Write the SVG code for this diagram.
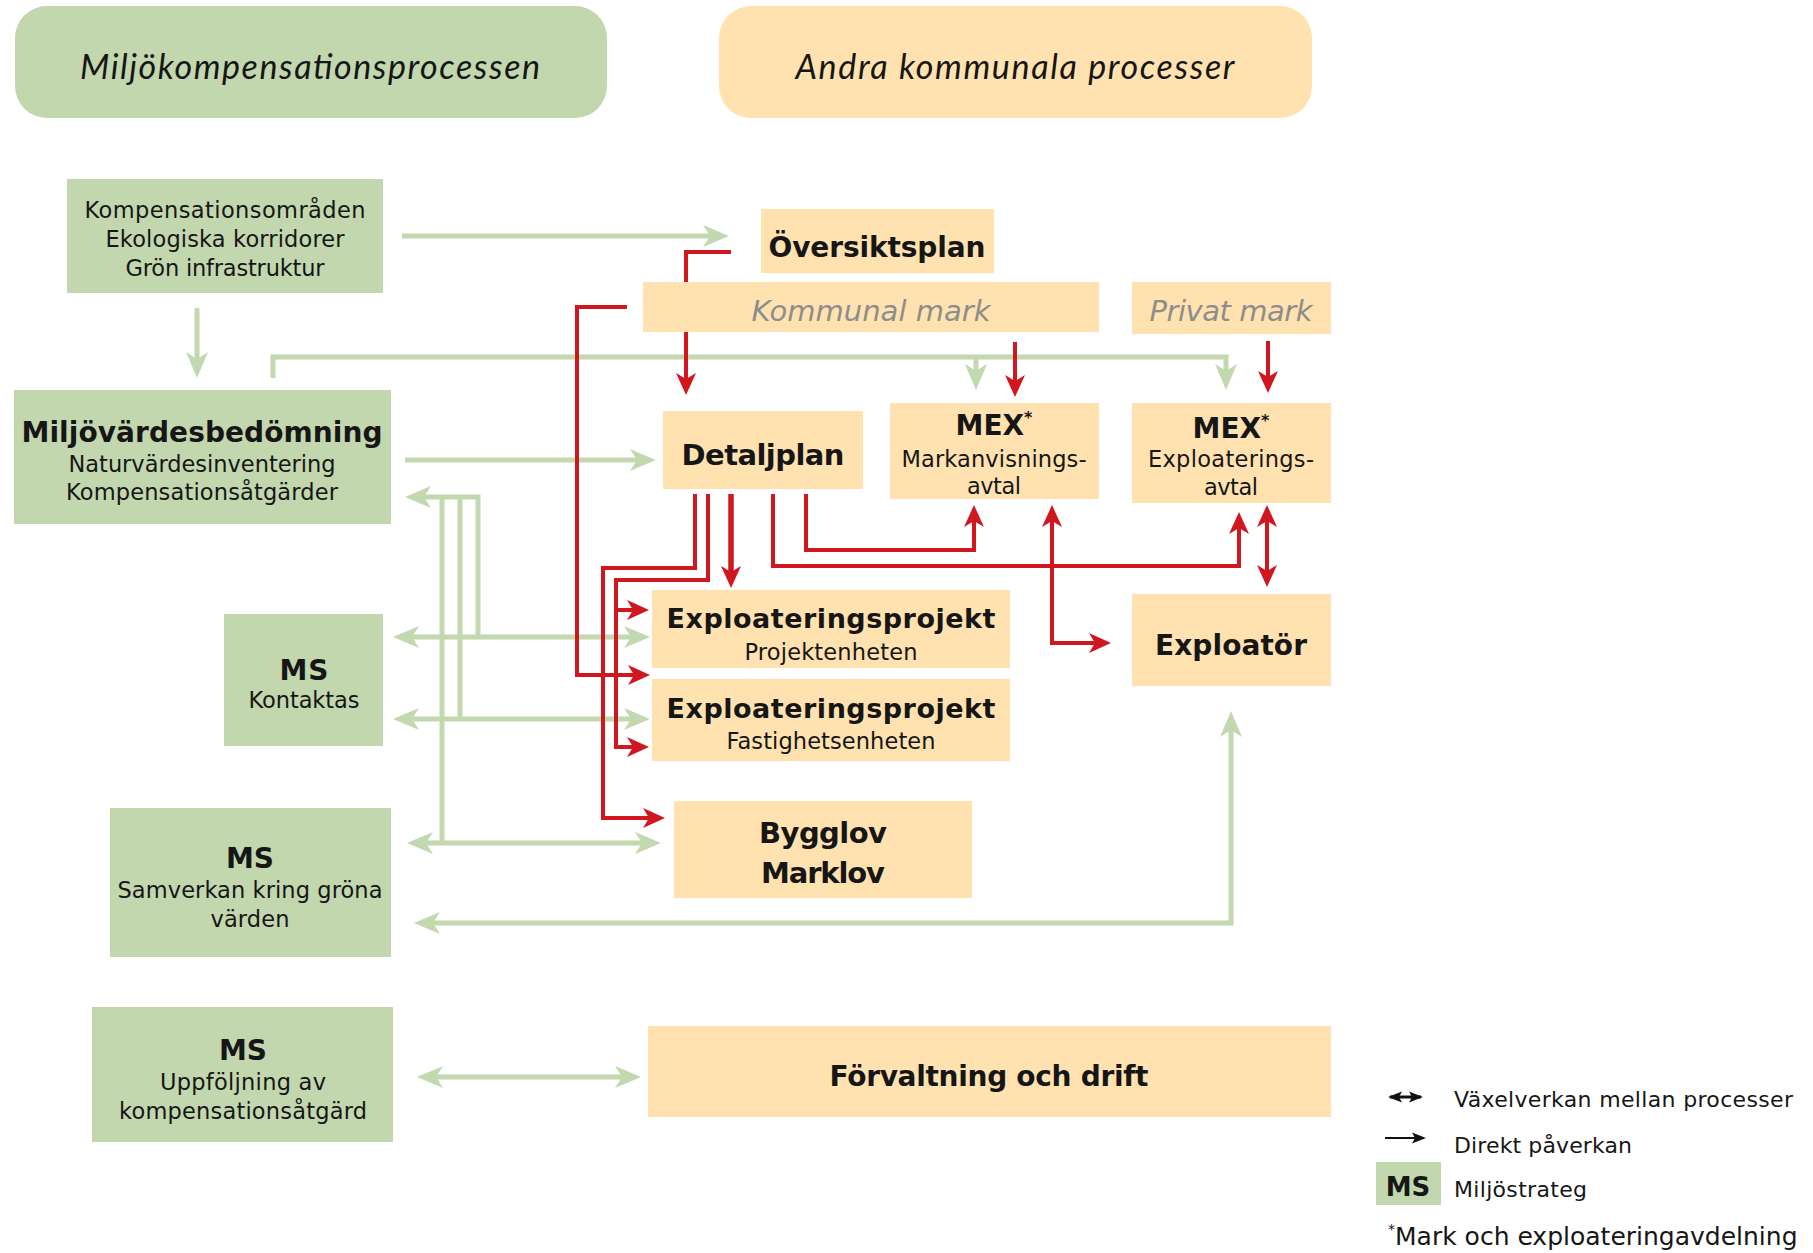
<svg xmlns="http://www.w3.org/2000/svg" width="1813" height="1253" viewBox="0 0 1813 1253">
<defs>
<style>
text{font-family:"DejaVu Sans","Liberation Sans",sans-serif;fill:#161616;text-anchor:middle}
.g{fill:#C2D7AE}
.o{fill:#FFE2AF}
.h{font-family:Lato,"DejaVu Sans",sans-serif;font-style:italic;font-size:34px}
.b{font-weight:bold;font-size:28px}
.s{font-size:22.5px}
.k{font-style:italic;font-weight:200;font-size:29px;fill:#8d8d8d}
.lg{font-size:22px;text-anchor:start}
.red{fill:none;stroke:#D0161E;stroke-width:4}
.grn{fill:none;stroke:#C2D8AE;stroke-width:5}
</style>
<marker id="ar" markerUnits="userSpaceOnUse" viewBox="0 -11 22 22" markerWidth="22" markerHeight="22" refX="14" refY="0" orient="auto-start-reverse"><path d="M0,-10 L22,0 L0,10 L6,0 Z" fill="#D0161E"/></marker>
<marker id="ag" markerUnits="userSpaceOnUse" viewBox="0 -12 26 24" markerWidth="26" markerHeight="24" refX="18" refY="0" orient="auto-start-reverse"><path d="M0,-11 L26,0 L0,11 L7,0 Z" fill="#C2D8AE"/></marker>
<marker id="ak" markerUnits="userSpaceOnUse" viewBox="0 -6 14 12" markerWidth="14" markerHeight="12" refX="12" refY="0" orient="auto-start-reverse"><path d="M0,-5.5 L14,0 L0,5.5 L3,0 Z" fill="#111"/></marker>
</defs>
<rect width="1813" height="1253" fill="#fff"/>

<g id="header-mk">
<rect class="g" x="15" y="6" width="592" height="112" rx="32"/>
<text class="h" x="310" y="79" textLength="460">Miljökompensationsprocessen</text>
</g>
<g id="header-andra">
<rect class="o" x="719" y="6" width="593" height="112" rx="32"/>
<text class="h" x="1015" y="79" textLength="439">Andra kommunala processer</text>
</g>

<g id="connectors">
<!-- green -->
<path class="grn" d="M402,236 H721" marker-end="url(#ag)"/>
<path class="grn" d="M197,308 V370" marker-end="url(#ag)"/>
<path class="grn" d="M273,378 V357 H1226 V382" marker-end="url(#ag)"/>
<path class="grn" d="M976,357 V382" marker-end="url(#ag)"/>
<path class="grn" d="M405,460 H648" marker-end="url(#ag)"/>
<path class="grn" d="M478,637 V497 H413" marker-end="url(#ag)"/>
<path class="grn" d="M460,497 V719"/>
<path class="grn" d="M442,497 V843"/>
<path class="grn" d="M401,637 H642" marker-start="url(#ag)" marker-end="url(#ag)"/>
<path class="grn" d="M401,719 H642" marker-start="url(#ag)" marker-end="url(#ag)"/>
<path class="grn" d="M415,843 H653" marker-start="url(#ag)" marker-end="url(#ag)"/>
<path class="grn" d="M1231,719 V923 H422" marker-start="url(#ag)" marker-end="url(#ag)"/>
<path class="grn" d="M425,1077 H633" marker-start="url(#ag)" marker-end="url(#ag)"/>
<!-- red -->
<path class="red" d="M731,252 H686 V387" marker-end="url(#ar)"/>
<path class="red" d="M627,307 H577 V675 H642" marker-end="url(#ar)"/>
<path class="red" d="M695,494 V568 H603 V818 H657" marker-end="url(#ar)"/>
<path class="red" d="M708,494 V580 H616 V747 H641" marker-end="url(#ar)"/>
<path class="red" d="M616,610 H641" marker-end="url(#ar)"/>
<path class="red" d="M731,494 V580" style="stroke-width:5.5" marker-end="url(#ar)"/>
<path class="red" d="M773,494 V566 H1239 V520" marker-end="url(#ar)"/>
<path class="red" d="M806,494 V550 H974 V513" marker-end="url(#ar)"/>
<path class="red" d="M1052,513 V643 H1103" marker-start="url(#ar)" marker-end="url(#ar)"/>
<path class="red" d="M1267,513 V579" marker-start="url(#ar)" marker-end="url(#ar)"/>
<path class="red" d="M1015,342 V389" marker-end="url(#ar)"/>
<path class="red" d="M1268,341 V385" marker-end="url(#ar)"/>
</g>

<g id="kompensationsomraden">
<rect class="g" x="67" y="179" width="316" height="114"/>
<text class="s" x="225" y="218" textLength="281">Kompensationsområden</text>
<text class="s" x="225" y="247" textLength="239">Ekologiska korridorer</text>
<text class="s" x="225" y="276" textLength="199">Grön infrastruktur</text>
</g>
<g id="miljovardesbedomning">
<rect class="g" x="14" y="390" width="377" height="134"/>
<text class="b" x="202" y="442" textLength="361">Miljövärdesbedömning</text>
<text class="s" x="202" y="472" textLength="267">Naturvärdesinventering</text>
<text class="s" x="202" y="500" textLength="272">Kompensationsåtgärder</text>
</g>
<g id="ms-kontaktas">
<rect class="g" x="224" y="614" width="159" height="132"/>
<text class="b" x="304" y="680" textLength="49">MS</text>
<text class="s" x="304" y="708" textLength="111">Kontaktas</text>
</g>
<g id="ms-samverkan">
<rect class="g" x="110" y="808" width="281" height="149"/>
<text class="b" x="250" y="868" textLength="48">MS</text>
<text class="s" x="250" y="898" textLength="265">Samverkan kring gröna</text>
<text class="s" x="250" y="927" textLength="79">värden</text>
</g>
<g id="ms-uppfoljning">
<rect class="g" x="92" y="1007" width="301" height="135"/>
<text class="b" x="243" y="1060" textLength="48">MS</text>
<text class="s" x="243" y="1090" textLength="166">Uppföljning av</text>
<text class="s" x="243" y="1119" textLength="248">kompensationsåtgärd</text>
</g>

<g id="oversiktsplan">
<rect class="o" x="761" y="209" width="233" height="64"/>
<text class="b" x="877" y="257" textLength="217">Översiktsplan</text>
</g>
<g id="kommunal-mark">
<rect class="o" x="643" y="282" width="456" height="50"/>
<text class="k" x="871" y="321" textLength="239">Kommunal mark</text>
</g>
<g id="privat-mark">
<rect class="o" x="1132" y="282" width="199" height="52"/>
<text class="k" x="1231" y="321" textLength="163">Privat mark</text>
</g>
<g id="detaljplan">
<rect class="o" x="663" y="411" width="200" height="78"/>
<text class="b" x="763" y="465" style="font-size:29px" textLength="163">Detaljplan</text>
</g>
<g id="mex-markanvisning">
<rect class="o" x="890" y="403" width="209" height="96"/>
<text class="b" x="994" y="435">MEX<tspan style="font-size:16px" dy="-12">*</tspan></text>
<text class="s" x="994" y="467" textLength="185">Markanvisnings-</text>
<text class="s" x="994" y="494" textLength="54">avtal</text>
</g>
<g id="mex-exploatering">
<rect class="o" x="1132" y="403" width="199" height="100"/>
<text class="b" x="1231" y="438">MEX<tspan style="font-size:16px" dy="-12">*</tspan></text>
<text class="s" x="1231" y="467" textLength="166">Exploaterings-</text>
<text class="s" x="1231" y="495" textLength="54">avtal</text>
</g>
<g id="exploateringsprojekt-projekt">
<rect class="o" x="652" y="590" width="358" height="78"/>
<text class="b" x="831" y="628" style="font-size:27px" textLength="329">Exploateringsprojekt</text>
<text class="s" x="831" y="660" textLength="173">Projektenheten</text>
</g>
<g id="exploateringsprojekt-fastighet">
<rect class="o" x="652" y="679" width="358" height="82"/>
<text class="b" x="831" y="718" style="font-size:27px" textLength="329">Exploateringsprojekt</text>
<text class="s" x="831" y="749" textLength="209">Fastighetsenheten</text>
</g>
<g id="exploator">
<rect class="o" x="1132" y="594" width="199" height="92"/>
<text class="b" x="1231" y="655" textLength="152">Exploatör</text>
</g>
<g id="bygglov">
<rect class="o" x="674" y="801" width="298" height="97"/>
<text class="b" x="823" y="843" style="font-size:29px" textLength="128">Bygglov</text>
<text class="b" x="823" y="883" style="font-size:29px" textLength="124">Marklov</text>
</g>
<g id="forvaltning">
<rect class="o" x="648" y="1026" width="683" height="91"/>
<text class="b" x="989" y="1086" textLength="319">Förvaltning och drift</text>
</g>

<g id="legend">
<path d="M1390,1097 H1421" stroke="#111" stroke-width="3" marker-start="url(#ak)" marker-end="url(#ak)"/>
<text class="lg" x="1454" y="1107" textLength="339">Växelverkan mellan processer</text>
<path d="M1385,1138 H1424" stroke="#111" stroke-width="2" marker-end="url(#ak)"/>
<text class="lg" x="1454" y="1153" textLength="178">Direkt påverkan</text>
<rect class="g" x="1376" y="1162" width="65" height="43"/>
<text class="b" x="1408" y="1196" style="font-size:26px">MS</text>
<text class="lg" x="1454" y="1197" textLength="133">Miljöstrateg</text>
<text class="lg" x="1388" y="1245" style="font-size:25px"><tspan style="font-size:14px" dy="-11">*</tspan><tspan dy="11">Mark och exploateringavdelning</tspan></text>
</g>
</svg>
